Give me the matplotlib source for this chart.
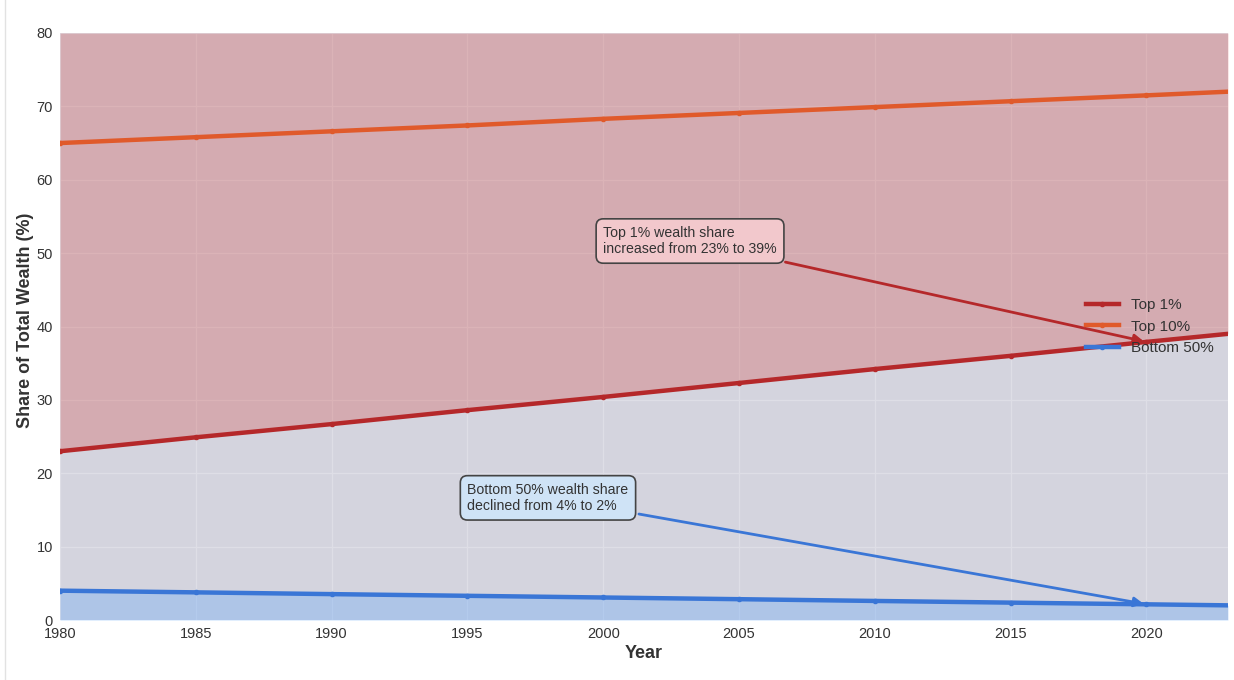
import matplotlib.pyplot as plt
from matplotlib.lines import Line2D

plt.rcParams['font.family'] = ['Liberation Sans', 'DejaVu Sans']

# wealth shares (%) by year
years = [1980, 1985, 1990, 1995, 2000, 2005, 2010, 2015, 2020, 2023]
top_1 = [23.0, 24.9, 26.7, 28.6, 30.4, 32.3, 34.2, 36.0, 37.9, 39.0]
top_10 = [65.0, 65.8, 66.6, 67.4, 68.3, 69.1, 69.9, 70.7, 71.5, 72.0]
bottom_50 = [4.0, 3.77, 3.53, 3.30, 3.07, 2.84, 2.60, 2.37, 2.14, 2.0]

RED = '#b5282a'
ORANGE = '#e05a2b'
BLUE = '#3a76d6'

fig = plt.figure(figsize=(12.34, 6.8), dpi=100)
ax = fig.add_axes([0.0486, 0.0882, 0.9465, 0.8633])
ax.set_facecolor('#d4d4de')
for s in ax.spines.values():
    s.set_visible(False)
ax.grid(True, color='#dedee6', linewidth=1.0)
ax.set_axisbelow(True)

# shaded bands
ax.fill_between(years, top_1, 80, color='#d4342e', alpha=0.25, linewidth=0)
ax.fill_between(years, 0, bottom_50, color='#75aff7', alpha=0.4, linewidth=0)

marks = list(range(len(years) - 1))
ax.plot(years, top_1, color=RED, lw=3.2, marker='o', ms=3, markevery=marks, label='Top 1%')
ax.plot(years, top_10, color=ORANGE, lw=3.2, marker='o', ms=3, markevery=marks, label='Top 10%')
ax.plot(years, bottom_50, color=BLUE, lw=3.2, marker='o', ms=3, markevery=marks, label='Bottom 50%')

ax.set_xlim(1980, 2023)
ax.set_ylim(0, 80)
ax.set_xticks(range(1980, 2021, 5))
ax.set_yticks(range(0, 81, 10))
ax.tick_params(length=0, labelsize=10.5, colors='#333333', pad=5)

ax.set_xlabel('Year', fontsize=13, fontweight='bold', color='#333333', labelpad=3)
ax.set_ylabel('Share of Total Wealth (%)', fontsize=13, fontweight='bold', color='#333333')
ax.yaxis.set_label_coords(-0.022, 0.51)

i20 = years.index(2020)
ax.annotate('Top 1% wealth share\nincreased from 23% to 39%',
            xy=(2020, top_1[i20]), xytext=(2000, 50), fontsize=10.2, color='#333333',
            bbox=dict(boxstyle='round,pad=0.5', fc='#f2c8cc', ec='#444444', lw=1.2),
            arrowprops=dict(arrowstyle='-|>', color=RED, lw=2, mutation_scale=14))
ax.annotate('Bottom 50% wealth share\ndeclined from 4% to 2%',
            xy=(2020, bottom_50[i20]), xytext=(1995, 15), fontsize=10.2, color='#333333',
            bbox=dict(boxstyle='round,pad=0.5', fc='#cfe3f6', ec='#444444', lw=1.2),
            arrowprops=dict(arrowstyle='-|>', color=BLUE, lw=2, mutation_scale=14))

leg = ax.legend(loc='center right', frameon=False, fontsize=11, handlelength=2.2)
for t in leg.get_texts():
    t.set_color('#333333')

fig.add_artist(Line2D([0.004, 0.004], [0, 1], color='#e2e2e2', lw=1))

fig.savefig('out.png', dpi=100)
